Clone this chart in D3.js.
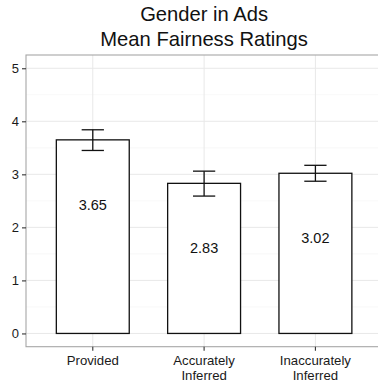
<!DOCTYPE html>
<html>
<head>
<meta charset="utf-8">
<script src="https://cdn.jsdelivr.net/npm/d3@7"></script>
<style>
  html, body { margin: 0; padding: 0; background: #fff; }
  svg { display: block; font-family: "Liberation Sans", Arial, Helvetica, sans-serif; }
</style>
</head>
<body>
<svg id="chart" width="378" height="385"></svg>
<script>
// Mean fairness ratings by how gender was determined
const categories = ["Provided", "Accurately\nInferred", "Inaccurately\nInferred"];
const means = [3.65, 2.83, 3.02];
const errLow = [3.45, 2.59, 2.87];
const errHigh = [3.84, 3.06, 3.17];
const yTicks = [0, 1, 2, 3, 4, 5];
const yMinorTicks = [0.5, 1.5, 2.5, 3.5, 4.5];
const titleLines = ["Gender in Ads", "Mean Fairness Ratings"];

const svg = d3.select("#chart");
const panel = { left: 26, top: 55, right: 382.2, bottom: 346.7 };

const x = d3.scaleBand()
  .domain(categories)
  .range([panel.left, panel.right])
  .paddingInner(0)
  .paddingOuter(0.1);

const y = d3.scaleLinear()
  .domain([-0.25, 5.25])
  .range([panel.bottom, panel.top]);

const cx = d => x(d) + x.bandwidth() / 2;
const barW = x.step() * 0.655;
const capW = x.step() * 0.2;

// Panel grid
const grid = svg.append("g");
grid.selectAll("line.minor").data(yMinorTicks).join("line")
  .attr("x1", panel.left).attr("x2", panel.right)
  .attr("y1", d => y(d)).attr("y2", d => y(d))
  .attr("stroke", "#f4f4f4").attr("stroke-width", 0.6);
grid.selectAll("line.major").data(yTicks).join("line")
  .attr("x1", panel.left).attr("x2", panel.right)
  .attr("y1", d => y(d)).attr("y2", d => y(d))
  .attr("stroke", "#e8e8e8").attr("stroke-width", 1);
grid.selectAll("line.vmajor").data(categories).join("line")
  .attr("x1", d => cx(d)).attr("x2", d => cx(d))
  .attr("y1", panel.top).attr("y2", panel.bottom)
  .attr("stroke", "#e8e8e8").attr("stroke-width", 1);

// Bars
svg.append("g").selectAll("rect").data(categories).join("rect")
  .attr("x", d => cx(d) - barW / 2)
  .attr("width", barW)
  .attr("y", (d, i) => y(means[i]))
  .attr("height", (d, i) => y(0) - y(means[i]))
  .attr("fill", "#fff")
  .attr("stroke", "#111")
  .attr("stroke-width", 1.3);

// Error bars
const eb = svg.append("g").attr("stroke", "#111").attr("stroke-width", 1.3);
categories.forEach((c, i) => {
  eb.append("line").attr("x1", cx(c)).attr("x2", cx(c))
    .attr("y1", y(errLow[i])).attr("y2", y(errHigh[i]));
  eb.append("line").attr("x1", cx(c) - capW / 2).attr("x2", cx(c) + capW / 2)
    .attr("y1", y(errHigh[i])).attr("y2", y(errHigh[i]));
  eb.append("line").attr("x1", cx(c) - capW / 2).attr("x2", cx(c) + capW / 2)
    .attr("y1", y(errLow[i])).attr("y2", y(errLow[i]));
});

// Value labels inside bars
svg.append("g").selectAll("text").data(categories).join("text")
  .attr("x", d => cx(d))
  .attr("y", (d, i) => y(means[i] - 1.22))
  .attr("dy", "0.36em")
  .attr("text-anchor", "middle")
  .attr("font-size", 14.5)
  .attr("fill", "#111")
  .text((d, i) => means[i].toFixed(2));

// Panel border
svg.append("rect")
  .attr("x", panel.left).attr("y", panel.top)
  .attr("width", panel.right - panel.left)
  .attr("height", panel.bottom - panel.top)
  .attr("fill", "none")
  .attr("stroke", "#a6a6a6")
  .attr("stroke-width", 1.1);

// Y axis
const yAxis = svg.append("g")
  .attr("transform", `translate(${panel.left},0)`)
  .call(d3.axisLeft(y).tickValues(yTicks).tickSize(4).tickPadding(3).tickFormat(d3.format("d")));
yAxis.select(".domain").remove();
yAxis.selectAll(".tick line").attr("stroke", "#333").attr("stroke-width", 1.1);
yAxis.selectAll(".tick text").attr("font-size", 13).attr("fill", "#1a1a1a")
  .attr("font-family", "Liberation Sans, Arial, sans-serif");

// X axis
const xAxis = svg.append("g")
  .attr("transform", `translate(0,${panel.bottom})`)
  .call(d3.axisBottom(x).tickSize(4).tickPadding(3).tickFormat(""));
xAxis.select(".domain").remove();
xAxis.selectAll(".tick line").attr("stroke", "#333").attr("stroke-width", 1.1);
xAxis.selectAll(".tick").each(function(d) {
  const t = d3.select(this).append("text")
    .attr("text-anchor", "middle")
    .attr("font-size", 13.2)
    .attr("fill", "#1a1a1a")
    .attr("font-family", "Liberation Sans, Arial, sans-serif");
  d.split("\n").forEach((line, k) => {
    t.append("tspan").attr("x", 0).attr("y", 18.5 + k * 14.5).text(line);
  });
});

// Title
const title = svg.append("text")
  .attr("text-anchor", "middle")
  .attr("font-size", 20.2)
  .attr("fill", "#111");
titleLines.forEach((line, k) => {
  title.append("tspan")
    .attr("x", (panel.left + panel.right) / 2)
    .attr("y", 21 + k * 25)
    .text(line);
});
</script>
</body>
</html>
